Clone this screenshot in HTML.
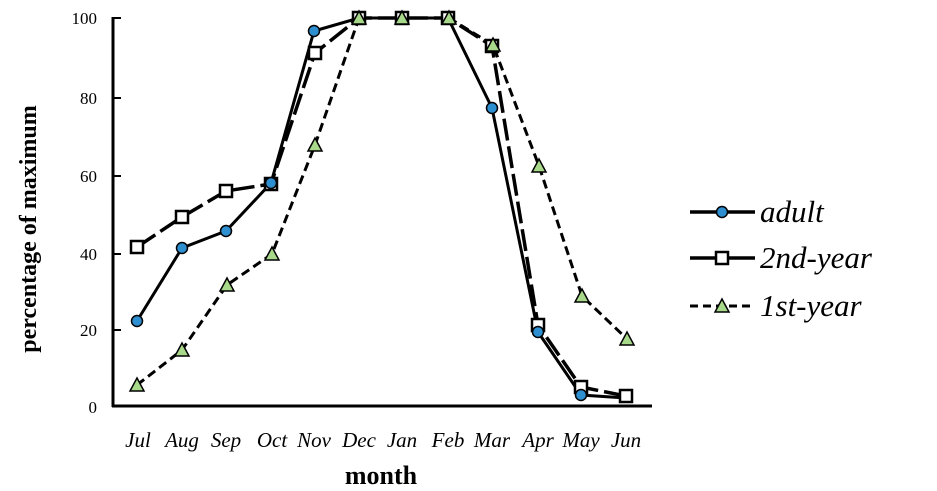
<!DOCTYPE html>
<html><head><style>body{margin:0;background:#fff}svg{display:block}</style></head><body>
<svg width="937" height="491" viewBox="0 0 937 491" xmlns="http://www.w3.org/2000/svg" font-family="Liberation Serif, serif">
<g stroke="#000" stroke-width="3" fill="none">
<line x1="113" y1="17" x2="113" y2="407"/>
<line x1="112" y1="406" x2="652" y2="406"/>
</g>
<g stroke="#000" stroke-width="2">
<line x1="113" y1="18" x2="121" y2="18"/><line x1="113" y1="98" x2="121" y2="98"/><line x1="113" y1="176" x2="121" y2="176"/><line x1="113" y1="254" x2="121" y2="254"/><line x1="113" y1="330" x2="121" y2="330"/>
</g>
<g font-size="17" text-anchor="end" fill="#000">
<text x="97" y="24">100</text><text x="97" y="104">80</text><text x="97" y="182">60</text><text x="97" y="260">40</text><text x="97" y="336">20</text><text x="97" y="413">0</text>
</g>
<g font-size="21" font-style="italic" text-anchor="middle" fill="#000">
<text x="138" y="447">Jul</text><text x="182" y="447">Aug</text><text x="226" y="447">Sep</text><text x="272" y="447">Oct</text><text x="314" y="447">Nov</text><text x="359" y="447">Dec</text><text x="402" y="447">Jan</text><text x="448" y="447">Feb</text><text x="492" y="447">Mar</text><text x="538" y="447">Apr</text><text x="581" y="447">May</text><text x="626" y="447">Jun</text>
</g>
<text x="381" y="484" font-size="26" font-weight="bold" text-anchor="middle">month</text>
<text transform="translate(36,229) rotate(-90)" font-size="24" font-weight="bold" text-anchor="middle">percentage of maximum</text>
<polyline fill="none" stroke="#000" stroke-width="3" stroke-dasharray="9,5" points="137,385 182,350 227,285 272,254 315,145 359,18 402,18 449,18 493,45 539,166 582,296 627,339"/>
<polyline fill="none" stroke="#000" stroke-width="3.5" stroke-dasharray="22,6" points="137,247 182,217 226,191 271,184 315,53 359,18 402,18 448,18 492,46 538,325 581,387 626,396"/>
<polyline fill="none" stroke="#000" stroke-width="3" points="137,321 182,248 226,231 271,183 314,31 359,18 402,18 448,18 492,108 538,332 581,395 626,398"/>
<g fill="#fff" stroke="#000" stroke-width="2.5">
<rect x="131" y="241" width="12" height="12"/><rect x="176" y="211" width="12" height="12"/><rect x="220" y="185" width="12" height="12"/><rect x="265" y="178" width="12" height="12"/><rect x="309" y="47" width="12" height="12"/><rect x="353" y="12" width="12" height="12"/><rect x="396" y="12" width="12" height="12"/><rect x="442" y="12" width="12" height="12"/><rect x="486" y="40" width="12" height="12"/><rect x="532" y="319" width="12" height="12"/><rect x="575" y="381" width="12" height="12"/><rect x="620" y="390" width="12" height="12"/>
</g>
<g fill="#2e8fd0" stroke="#000" stroke-width="1.5">
<circle cx="137" cy="321" r="5.5"/><circle cx="182" cy="248" r="5.5"/><circle cx="226" cy="231" r="5.5"/><circle cx="271" cy="183" r="5.5"/><circle cx="314" cy="31" r="5.5"/><circle cx="492" cy="108" r="5.5"/><circle cx="538" cy="332" r="5.5"/><circle cx="581" cy="395" r="5.5"/>
</g>
<g fill="#a8d88a" stroke="#000" stroke-width="1.5">
<polygon points="137,378 130,391 144,391"/><polygon points="182,343 175,356 189,356"/><polygon points="227,278 220,291 234,291"/><polygon points="272,247 265,260 279,260"/><polygon points="315,138 308,151 322,151"/><polygon points="359,11 352,24 366,24"/><polygon points="402,11 395,24 409,24"/><polygon points="449,11 442,24 456,24"/><polygon points="493,38 486,51 500,51"/><polygon points="539,159 532,172 546,172"/><polygon points="582,289 575,302 589,302"/><polygon points="627,332 620,345 634,345"/>
</g>
<line x1="690" y1="212" x2="755" y2="212" stroke="#000" stroke-width="3.5"/>
<circle cx="722" cy="212" r="5.5" fill="#2e8fd0" stroke="#000" stroke-width="1.5"/>
<line x1="690" y1="258" x2="755" y2="258" stroke="#000" stroke-width="3.5"/>
<rect x="716" y="252" width="12" height="12" fill="#fff" stroke="#000" stroke-width="2.5"/>
<line x1="690" y1="306" x2="755" y2="306" stroke="#000" stroke-width="3" stroke-dasharray="8,5"/>
<polygon points="722,299 715,312 729,312" fill="#a8d88a" stroke="#000" stroke-width="1.5"/>
<g font-size="31" font-style="italic" fill="#000">
<text x="760" y="222">adult</text><text x="760" y="268">2nd-year</text><text x="760" y="316">1st-year</text>
</g>
</svg>
</body></html>
